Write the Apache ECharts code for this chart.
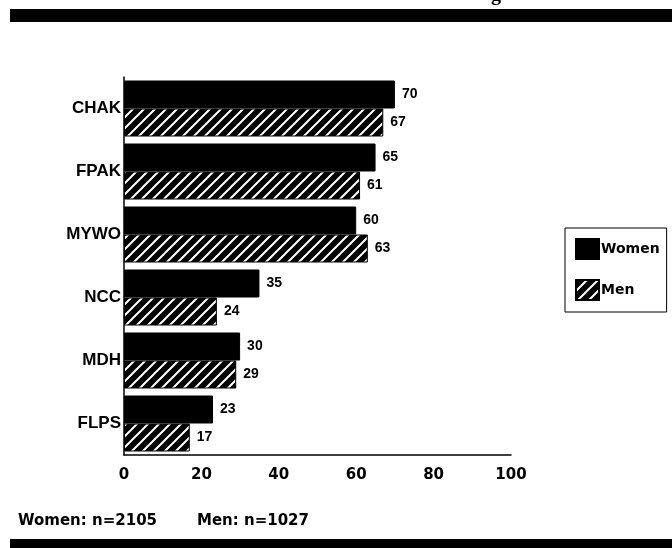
<!DOCTYPE html>
<html>
<head>
<meta charset="utf-8">
<script src="https://cdn.jsdelivr.net/npm/echarts@6/dist/echarts.min.js"></script>
<style>html,body{margin:0;padding:0;background:#fff;}#c{width:672px;height:548px;}</style>
</head>
<body>
<div id="c"></div>
<script>
const categories = ['CHAK', 'FPAK', 'MYWO', 'NCC', 'MDH', 'FLPS'];
const women = [70, 65, 60, 35, 30, 23];
const men = [67, 61, 63, 24, 29, 17];
const xTicks = [0, 20, 40, 60, 80, 100];
const footWomen = 'Women: n=2105';
const footMen = 'Men: n=1027';

function hatch() {
  const s = 11;
  const c = document.createElement('canvas');
  c.width = s; c.height = s;
  const g = c.getContext('2d');
  g.fillStyle = '#000'; g.fillRect(0, 0, s, s);
  g.strokeStyle = '#fff'; g.lineWidth = 2;
  g.beginPath();
  g.moveTo(-2, s + 2); g.lineTo(s + 2, -2);
  g.moveTo(-2 - s, s + 2); g.lineTo(2, -2);
  g.moveTo(s - 2, s + 2); g.lineTo(2 * s + 2, -2);
  g.stroke();
  return c;
}
const pat = { image: hatch(), repeat: 'repeat' };
const font = 'Liberation Sans';
const wide = 'DejaVu Sans';

const chart = echarts.init(document.getElementById('c'));
chart.setOption({
  animation: false,
  backgroundColor: '#fff',
  textStyle: { fontFamily: font },
  grid: { left: 124, right: 161, top: 77, bottom: 93 },
  legend: {
    orient: 'vertical', left: 565, top: 228, icon: 'rect',
    borderColor: '#000', borderWidth: 1, borderRadius: 0,
    padding: [10, 7, 11, 10], itemGap: 19, itemWidth: 23, itemHeight: 20,
    textStyle: { fontFamily: wide, fontSize: 14, fontWeight: 'bold', color: '#000', padding: [0, 0, 0, -3] },
    data: ['Women', 'Men']
  },
  xAxis: {
    type: 'value', min: 0, max: 100, interval: 20,
    axisLine: { show: true, lineStyle: { color: '#000', width: 1.5 } },
    axisTick: { show: false }, splitLine: { show: false },
    axisLabel: { color: '#000', fontSize: 15, fontFamily: wide, fontWeight: 'bold', margin: 13,
      formatter: v => xTicks.includes(v) ? String(v) : '' }
  },
  yAxis: {
    type: 'category', data: categories, inverse: true,
    axisLine: { show: true, lineStyle: { color: '#000', width: 1.5 } },
    axisTick: { show: false },
    axisLabel: { color: '#000', fontSize: 17, fontWeight: 'bold', margin: 3 }
  },
  series: [
    { name: 'Women', type: 'bar', data: women, barWidth: 28, barGap: '0%',
      itemStyle: { color: '#000', borderColor: '#000', borderWidth: 1 },
      label: { show: true, position: 'right', distance: 7, color: '#000', fontSize: 14, fontWeight: 'bold', fontFamily: font } },
    { name: 'Men', type: 'bar', data: men, barWidth: 28, barGap: '0%',
      itemStyle: { color: pat, borderColor: '#000', borderWidth: 1 },
      label: { show: true, position: 'right', distance: 7, color: '#000', fontSize: 14, fontWeight: 'bold', fontFamily: font } }
  ],
  graphic: [
    { type: 'rect', shape: { x: 10, y: 9, width: 662, height: 13 }, style: { fill: '#000' } },
    { type: 'rect', shape: { x: 10, y: 539, width: 662, height: 9 }, style: { fill: '#000' } },
    { type: 'text', x: 491, y: 5, style: { text: 'g', font: 'bold 20px "Liberation Serif"', fill: '#000', verticalAlign: 'bottom' } },
    { type: 'text', x: 18, y: 521, style: { text: footWomen, font: 'bold 15px "DejaVu Sans"', fill: '#000', verticalAlign: 'middle' } },
    { type: 'text', x: 197, y: 521, style: { text: footMen, font: 'bold 15px "DejaVu Sans"', fill: '#000', verticalAlign: 'middle' } }
  ]
});
</script>
</body>
</html>
